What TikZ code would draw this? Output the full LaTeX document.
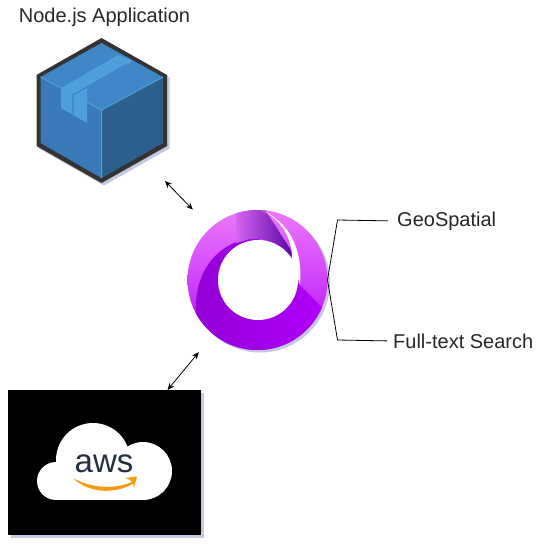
\documentclass[tikz,border=0pt]{standalone}
\usepackage{fontspec}
\setmainfont{Liberation Sans}
\usepackage{tikz}
\usetikzlibrary{shadows,arrows.meta}
\definecolor{shadowblue}{HTML}{C3C9DE}
\definecolor{textdark}{HTML}{26262B}
\definecolor{cubeedge}{HTML}{333333}
\definecolor{cubetop}{HTML}{3F86C6}
\definecolor{cubetape}{HTML}{4F9FDB}
\definecolor{cubeleft}{HTML}{3A7AB8}
\definecolor{cuberight}{HTML}{2D5F8C}
\definecolor{awsink}{HTML}{232F3E}
\definecolor{awsorange}{HTML}{F79A0E}
\definecolor{logorim}{HTML}{EC78FC}
\definecolor{logolow}{HTML}{B000F8}
\definecolor{logodark}{HTML}{9000D2}
\definecolor{logobright}{HTML}{B400FF}
\definecolor{logotip}{HTML}{5000A2}
\definecolor{logofade}{HTML}{D664F0}

\begin{document}
\begin{tikzpicture}
     [ x=1pt, y=-1pt,
       softshadow/.style={drop shadow={shadow xshift=2.5pt,shadow yshift=-2.5pt,fill=shadowblue,opacity=1}},
       caption/.style={font=\fontsize{20}{24}\selectfont, text=textdark, inner sep=0pt},
       spot/.style={inner sep=0pt, outer sep=0pt},
       link/.style={{Stealth[length=7pt,width=6pt]}-{Stealth[length=7pt,width=6pt]}, black, line width=.8pt},
       branch/.style={black, line width=.8pt}]
   \useasboundingbox (0,0) rectangle (560,547);
   \fill[white] (0,0) rectangle (560,547);

   \node (appname) [caption] at (104.5,17) {Node.js Application};
   \node (geo) [caption, anchor=west] at (397,221) {GeoSpatial};
   \node (fts) [caption, anchor=west] at (393,341) {Full-text Search};

   % package box
   \node (pkg) [spot, minimum width=127pt, minimum height=141pt] at (101.5,110.5) {};
   \fill[cubeedge, softshadow] (101.5,38) -- (167,75) -- (167,146) -- (101.5,183) -- (36.5,146) -- (36.5,75) -- cycle;
   \fill[cubetop] (101.5,43) -- (163,77) -- (101.5,110) -- (40.5,77) -- cycle;
   \fill[cubeleft] (40.5,77) -- (101.5,110) -- (101.5,178) -- (40.5,143) -- cycle;
   \fill[cuberight] (101.5,110) -- (163,77) -- (163,143) -- (101.5,178) -- cycle;
   \draw[cubetape, line width=1pt] (40.5,77) -- (101.5,110) -- (101.5,178);
   \draw[cubetape, line width=1pt] (101.5,110) -- (163,77);
   \fill[cubetape] (61,88) -- (118,55) -- (133,61) -- (87,87) -- (87,123) -- (61,108) -- cycle;
   \draw[cubetop, line width=1.2pt] (73,116) -- (73,95) -- (127,64);

   % logo
   \node (logo) [spot, circle, minimum size=140pt, softshadow, top color=logorim, bottom color=logolow, middle color=logorim!55!logolow] at (257.5,280) {};
   \begin{scope}
     \clip (257.5,280) circle (70);
     \shade[left color=logodark, right color=logobright]
       (196,312) .. controls (194,265) and (225,238) .. (258,238) -- (300,285) -- (332,318) -- (340,400) -- (180,400) -- cycle;
     \shade[left color=logofade, right color=logotip]
       (236,205) -- (262,205) -- (296,258) -- (292,258) .. controls (280,243) and (265,238) .. (250,239) -- (236,243) -- cycle;
     \fill[white] (256,205) -- (261,210) .. controls (283,220) and (292,240) .. (292,258) -- (300,285)
       .. controls (303,250) and (290,222) .. (261,210) -- (264,205) -- cycle;
   \end{scope}
   \fill[white] (258,280) circle (40);

   % cloud box
   \node (aws) [spot, fill=black, minimum width=193pt, minimum height=145pt, softshadow] at (104.5,462.5) {};
   \fill[white] (56,481) circle (19);
   \fill[white] (93,460) circle (37);
   \fill[white] (143,471) circle (29);
   \fill[white] (56,465) rectangle (143,500);
   \node (awsname) [spot, font=\fontsize{33}{36}\selectfont, text=awsink, anchor=base] at (104,472) {aws};
   \fill[awsorange] (73,478) .. controls (90,488) and (115,490) .. (133,481.5) -- (134,483)
     .. controls (115,495) and (88,493) .. (73,478) -- cycle;
   \fill[awsorange] (125,478) -- (137,476.5) -- (134,488) .. controls (134,483) and (132,480) .. (125,478) -- cycle;

   \draw[link, shorten >=25.6pt] (pkg.south east) -- (logo.132);
   \draw[link, shorten >=23pt] (aws.49.2) -- (logo.231);
   \draw[branch, shorten >=9pt] (logo.east) -- ++(10,-60) -- (geo.west);
   \draw[branch, shorten >=6pt] (logo.east) -- ++(10,60) -- (fts.west);
   \end{tikzpicture}
\end{document}
